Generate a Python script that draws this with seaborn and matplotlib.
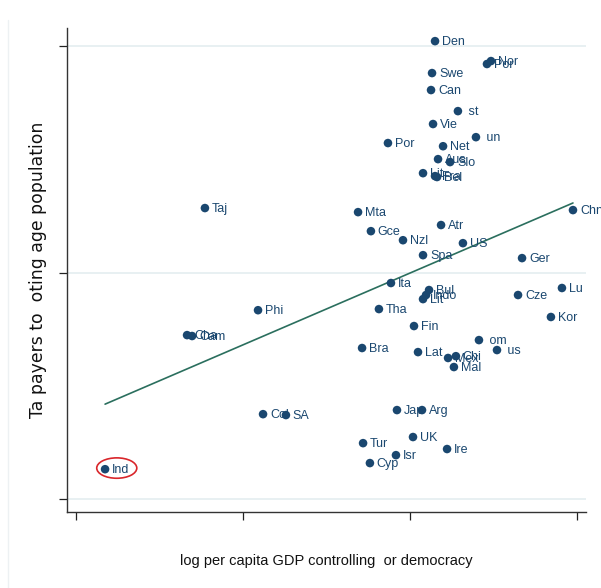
import numpy as np
import pandas as pd
import matplotlib
matplotlib.use("Agg")
import matplotlib.pyplot as plt
from matplotlib.patches import Ellipse
from matplotlib.lines import Line2D
import seaborn as sns

# Country codes (as labelled), GDP index and taxpayer ratio
countries = ["Den", "Nor", "Por", "Swe", "Can", " st", "Vie", " un", "Por", "Net",
             "Aus", "Slo", "Lit", "Fra", "Bel", "Taj", "Mta", "Chn", "Atr", "Gce",
             "Nzl", "US", "Spa", "Ger", "Ita", "Lu", "Bul", "Cze", "Indo", "Lit",
             "Phi", "Tha", "Kor", "Fin", "Cha", "Cam", " om", "Bra", " us", "Lat",
             "Mex", "Chi", "Mal", "Col", "SA", "Jap", "Arg", "UK", "Tur", "Ire",
             "Isr", "Cyp", "Ind"]
gdp = [2.150, 2.485, 2.461, 2.132, 2.126, 2.287, 2.138, 2.395, 1.868, 2.198,
       2.168, 2.240, 2.078, 2.150, 2.162, 0.772, 1.689, 2.976, 2.186, 1.766,
       1.958, 2.317, 2.078, 2.671, 1.886, 2.910, 2.114, 2.647, 2.096, 2.078,
       1.090, 1.814, 2.844, 2.024, 0.665, 0.695, 2.413, 1.713, 2.521, 2.048,
       2.228, 2.275, 2.263, 1.120, 1.257, 1.922, 2.072, 2.018, 1.719, 2.222,
       1.916, 1.760, 0.174]
taxpayers = [2.022, 1.934, 1.921, 1.881, 1.806, 1.713, 1.656, 1.598, 1.572, 1.558,
             1.501, 1.488, 1.439, 1.426, 1.422, 1.285, 1.267, 1.276, 1.210, 1.183,
             1.143, 1.130, 1.077, 1.064, 0.954, 0.932, 0.923, 0.901, 0.901, 0.883,
             0.834, 0.839, 0.804, 0.764, 0.724, 0.720, 0.702, 0.667, 0.658, 0.649,
             0.623, 0.631, 0.583, 0.375, 0.371, 0.393, 0.393, 0.274, 0.247, 0.221,
             0.194, 0.159, 0.132]

# Linear fit coefficients
fit_intercept = 0.364
fit_slope = 0.317

x_ticks = [0, 1, 2, 3]
y_ticks = [0, 1, 2]

highlight = "Ind"

df = pd.DataFrame({"country": countries, "gdp": gdp, "tax": taxpayers})
fit_x = np.array([min(gdp), max(gdp)])
fit_df = pd.DataFrame({"gdp": fit_x, "tax": fit_intercept + fit_slope * fit_x})

sns.set_theme(style="white")
plt.rcParams["font.family"] = ["Liberation Sans", "DejaVu Sans"]

navy = "#1a476f"
fig = plt.figure(figsize=(6.01, 5.88), dpi=100)
ax = fig.add_axes([67 / 601, 1 - 512 / 588, (586 - 67) / 601, (512 - 28) / 588])

# faint outer frame edge on the left
fig.add_artist(Line2D([8 / 601, 8 / 601], [0, 1 - 20 / 588], transform=fig.transFigure,
                      color="#edf1f3", lw=1.0))

for yv in y_ticks:
    ax.axhline(yv, color="#e8f0f2", lw=1.4, zorder=0)

sns.lineplot(data=fit_df, x="gdp", y="tax", ax=ax, color="#2b6f5e", lw=1.2, zorder=2)
sns.scatterplot(data=df, x="gdp", y="tax", ax=ax, color=navy, s=38,
                edgecolor="none", zorder=3)

for _, r in df.iterrows():
    ax.annotate(r["country"], (r["gdp"], r["tax"]), xytext=(5, -0.5),
                textcoords="offset points", va="center", ha="left",
                fontsize=9, color=navy, zorder=4)

hl = df[df["country"] == highlight].iloc[0]
ax.add_patch(Ellipse((hl["gdp"] + 0.07, hl["tax"] + 0.005), width=0.24, height=0.09,
                     fill=False, edgecolor="#d9262b", lw=1.2, zorder=5))

ax.set_xlim(-0.054, 3.054)
ax.set_ylim(-0.057, 2.08)
ax.set_xticks(x_ticks)
ax.set_yticks(y_ticks)
ax.set_xticklabels([])
ax.set_yticklabels([])
ax.tick_params(axis="both", which="both", direction="out", length=6, width=0.9,
               color="#222222", bottom=True, left=True)
sns.despine(ax=ax)
for s in ["left", "bottom"]:
    ax.spines[s].set_color("#333333")
    ax.spines[s].set_linewidth(1.0)

ax.set_xlabel("log per capita GDP controlling  or democracy", fontsize=10.5,
              color="#111111", labelpad=21)
ax.set_ylabel("Ta payers to  oting age population", fontsize=12.4,
              color="#111111", labelpad=5, family=["DejaVu Sans"])

fig.savefig("out.png", dpi=100, facecolor="white")
